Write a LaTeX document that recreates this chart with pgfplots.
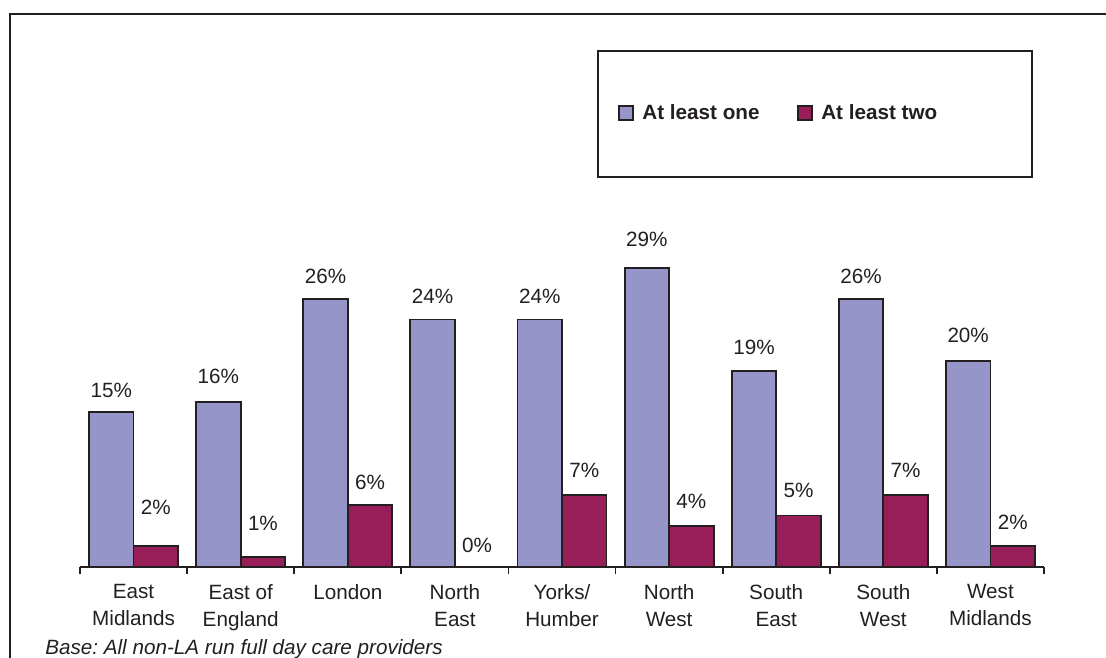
\documentclass[border=0pt]{standalone}
\usepackage{fontspec}
\setmainfont{Liberation Sans}
\usepackage{pgfplots}
\usepackage{pgfplotstable}
\pgfplotsset{compat=1.18}
\frenchspacing

\definecolor{one}{HTML}{9595C9}
\definecolor{two}{HTML}{981E5A}
\definecolor{ink}{HTML}{231F20}

% x = region index, y = percent, off = label offset above bar top (px)
\pgfplotstableread{
x y off
0 15 22
1 16 26
2 26 23
3 24 23
4 24 23
5 29 29
6 19 24
7 26 23
8 20 25
}\tabone
\pgfplotstableread{
x y off
0 2 39
1 1 33
2 6 23
3 0 22
4 7 24
5 4 24
6 5 25
7 7 24
8 2 24
}\tabtwo

\begin{document}
\begin{tikzpicture}[x=0.75pt,y=0.75pt]
\path[use as bounding box] (0,0) rectangle (1106,657);
\clip (0,0) rectangle (1106,657);

% outer frame (top and left only)
\draw[ink, line width=1.5pt] (10,-5) -- (10,643) -- (1110,643);

% legend box
\draw[ink, line width=1.5pt] (598,606) rectangle (1032,480);

\begin{axis}[
    at={(60pt,67.5pt)}, anchor=south west,
    scale only axis, width=723pt, height=309.3pt,
    xmin=-0.5, xmax=8.5, ymin=0, ymax=40,
    ybar=0pt, bar width=33.4pt,
    axis x line*=bottom, axis y line=none,
    x axis line style={-, draw=ink, line width=1.4pt},
    xtick={0,...,8},
    xticklabels={{East\\Midlands},{East of\\England},{London},{North\\East},{Yorks/\\Humber},{North\\West},{South\\East},{South\\West},{West\\Midlands}},
    major tick length=0pt,
    extra x ticks={-0.5,0.5,1.5,2.5,3.5,4.5,5.5,6.5,7.5,8.5},
    extra x tick labels={},
    extra x tick style={major tick length=5.5pt, tick align=outside, tick style={draw=ink, line width=1.3pt}},
    xticklabel style={align=center, anchor=north, inner sep=0pt, yshift=-13pt,
        font=\fontsize{15.5}{20.25}\selectfont, text=ink},
    /pgf/number format/assume math mode=true,
    point meta=explicit,
    nodes near coords={\pgfmathprintnumber{\pgfplotspointmeta}\%},
    visualization depends on={\thisrow{off} \as \labeloff},
    every node near coord/.append style={anchor=center, inner sep=0pt,
        yshift=\labeloff*0.75pt, font=\fontsize{15.5}{18}\selectfont, text=ink},
    legend columns=2,
    legend image code/.code={\draw[#1, line width=1.3pt] (0pt,-5.25pt) rectangle (10.5pt,5.25pt);},
    legend style={at={(axis description cs:0.5581,1.1009)}, anchor=west,
        draw=none, fill=none, inner sep=0pt, outer sep=0pt,
        font=\bfseries\fontsize{15.5}{18}\selectfont, text=ink,
        /tikz/every odd column/.append style={column sep=4.5pt},
        /tikz/every even column/.append style={column sep=26pt}},
]
\addplot[fill=one, draw=ink, line width=1.4pt] table[x=x, y=y, meta=y] {\tabone};
\addlegendentry{At least one}
\addplot[fill=two, draw=ink, line width=1.4pt] table[x=x, y=y, meta=y] {\tabtwo};
\addlegendentry{At least two}
\end{axis}

\node[anchor=base west, inner sep=0pt, text=ink, font=\itshape\fontsize{15.5}{18}\selectfont]
    at (45,3) {Base: All non-LA run full day care providers};
\end{tikzpicture}
\end{document}
